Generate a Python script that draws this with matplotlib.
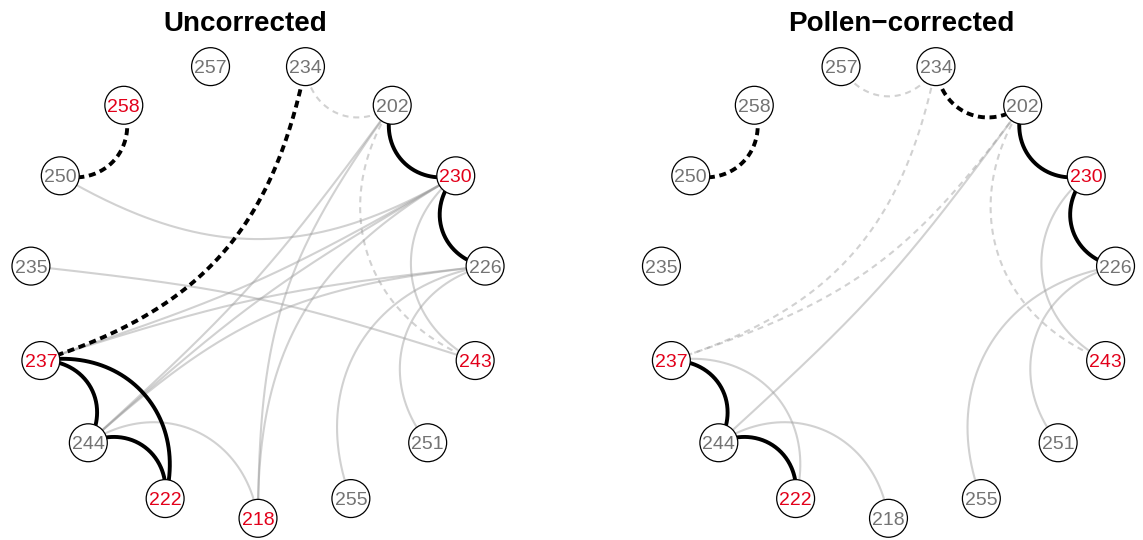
import numpy as np
import matplotlib
matplotlib.use("Agg")
import matplotlib.pyplot as plt
from matplotlib.patches import Circle

plt.rcParams['font.family'] = ['Liberation Sans', 'DejaVu Sans']

# Node order around the circle, starting at the bottom and running counter-clockwise
nodes = ["218", "255", "251", "243", "226", "230", "202", "234",
         "257", "258", "250", "235", "237", "244", "222"]

panel_titles = ["Uncorrected", "Pollen\u2212corrected"]

# Nodes whose labels are highlighted in red
red_uncorrected = ["258", "230", "237", "243", "222", "218"]
red_corrected = ["230", "237", "243", "222"]

# Uncorrected network
strong_pos_uncorrected = [("202", "230"), ("230", "226"), ("237", "244"),
                          ("237", "222"), ("244", "222")]
strong_neg_uncorrected = [("258", "250"), ("234", "237")]
weak_pos_uncorrected = [("250", "230"), ("235", "243"), ("237", "230"),
                        ("237", "226"), ("244", "202"), ("244", "230"),
                        ("244", "226"), ("218", "202"), ("218", "230"),
                        ("244", "218"), ("255", "226"), ("251", "226"),
                        ("230", "243")]
weak_neg_uncorrected = [("234", "202"), ("202", "243")]

# Pollen-corrected network
strong_pos_corrected = [("202", "230"), ("230", "226"), ("237", "244"),
                        ("244", "222")]
strong_neg_corrected = [("258", "250"), ("234", "202")]
weak_pos_corrected = [("237", "222"), ("244", "218"), ("244", "202"),
                      ("230", "243"), ("255", "226"), ("251", "226")]
weak_neg_corrected = [("257", "234"), ("234", "237"), ("202", "237"),
                      ("202", "243")]

RED = "#E2001A"
GREY_TEXT = "#737373"
CURVE = 0.32
NODE_R = 0.083


def layout(names):
    n = len(names)
    ang = np.deg2rad(-90 + 360.0 * np.arange(n) / n)
    return {nm: (np.cos(a), np.sin(a)) for nm, a in zip(names, ang)}


def edge_path(p0, p3, k=CURVE):
    # cubic curve bending towards the centre of the circle layout;
    # short edges get a rounder, boxier bend than long ones
    p0 = np.asarray(p0)
    p3 = np.asarray(p3)
    mid = (p0 + p3) / 2
    chord = p3 - p0
    length = np.linalg.norm(chord)
    cos_half = np.linalg.norm(mid)
    bow = k * length * cos_half
    if cos_half > 1e-9:
        n = -mid / cos_half
    else:
        n = np.array([-chord[1], chord[0]]) / length
    a = bow / 0.75
    s = np.clip(0.5 - 0.85 * bow / length, 0.2, 0.45)
    q1 = p0 + s * chord + a * n
    q2 = p3 - s * chord + a * n
    t = np.linspace(0, 1, 150)[:, None]
    pts = ((1 - t) ** 3 * p0 + 3 * (1 - t) ** 2 * t * q1
           + 3 * (1 - t) * t ** 2 * q2 + t ** 3 * p3)
    return pts[:, 0], pts[:, 1]


def draw_panel(ax, title, title_x, red, strong_pos, strong_neg, weak_pos, weak_neg):
    pos = layout(nodes)
    styles = [
        (weak_pos, dict(color="#9a9a9a", alpha=0.45, lw=1.5, ls="-", zorder=1)),
        (weak_neg, dict(color="#9a9a9a", alpha=0.45, lw=1.5, ls=(0, (2.9, 2.3)), zorder=1)),
        (strong_pos, dict(color="black", lw=2.8, ls="-", zorder=2)),
        (strong_neg, dict(color="black", lw=2.8, ls=(0, (1.8, 1.2)), zorder=2)),
    ]
    for edges, kw in styles:
        for a, b in edges:
            x, y = edge_path(pos[a], pos[b])
            ax.plot(x, y, solid_capstyle="butt", dash_capstyle="butt", **kw)
    for nm, (x, y) in pos.items():
        ax.add_patch(Circle((x, y), NODE_R, facecolor="white", edgecolor="black",
                            lw=0.9, zorder=5))
        ax.text(x, y, nm, ha="center", va="center_baseline", fontsize=14,
                color=RED if nm in red else GREY_TEXT, zorder=6)
    ax.text(title_x, 1.136, title, ha="center", va="baseline", fontsize=20,
            fontweight="bold", color="black")
    ax.axis("off")


fig = plt.figure(figsize=(11.43, 5.40), dpi=100)
ax1 = fig.add_axes([0, 0, 0.5, 1])
ax2 = fig.add_axes([0.5, 0, 0.5, 1])
ax1.set_xlim(-1.130, 1.373)
ax1.set_ylim(-1.095, 1.270)
ax2.set_xlim(-1.3885, 1.1148)
ax2.set_ylim(-1.095, 1.270)

draw_panel(ax1, panel_titles[0], -0.055, red_uncorrected,
           strong_pos_uncorrected, strong_neg_uncorrected,
           weak_pos_uncorrected, weak_neg_uncorrected)
draw_panel(ax2, panel_titles[1], 0.057, red_corrected,
           strong_pos_corrected, strong_neg_corrected,
           weak_pos_corrected, weak_neg_corrected)

fig.savefig("out.png", dpi=100, facecolor="white")
